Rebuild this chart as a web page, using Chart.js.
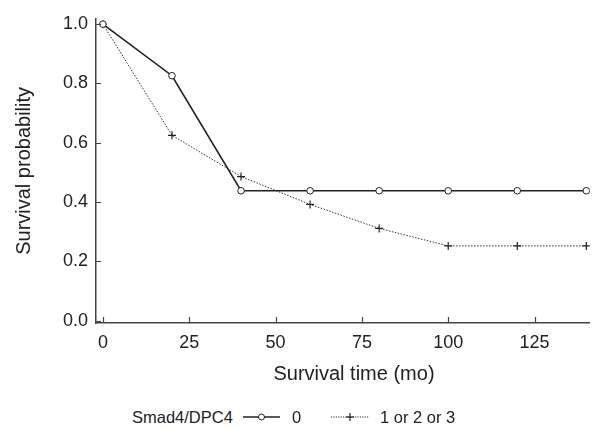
<!DOCTYPE html>
<html>
<head>
<meta charset="utf-8">
<script src="https://cdn.jsdelivr.net/npm/chart.js@4.4.1/dist/chart.umd.min.js"></script>
<style>
  body { margin: 0; background: #fff; font-family: "Liberation Sans", Arial, sans-serif; }
  #wrap { position: relative; width: 595px; height: 429px; }
  #chart { position: absolute; left: 0; top: 0; }
  .leg { position: absolute; top: 406px; font-size: 16.5px; color: #222; white-space: nowrap; line-height: 22px; }
  #xtitle { position: absolute; left: 254px; width: 200px; text-align: center; top: 361px; font-size: 20px; line-height: 24px; color: #222; }
</style>
</head>
<body>
<div id="wrap">
  <canvas id="chart" width="595" height="395"></canvas>
  <div id="xtitle">Survival time (mo)</div>
  <span class="leg" style="left:132px">Smad4/DPC4</span>
  <svg class="leg" style="left:243px; top:411px" width="38" height="12"><line x1="0" y1="6" x2="37" y2="6" stroke="#222" stroke-width="1.3"/><circle cx="18.5" cy="6" r="3" fill="#fff" stroke="#222" stroke-width="1"/></svg>
  <span class="leg" style="left:292px">0</span>
  <svg class="leg" style="left:331px; top:411px" width="39" height="12"><line x1="0" y1="6" x2="38" y2="6" stroke="#333" stroke-width="1" stroke-dasharray="1.2,1.2"/><line x1="15" y1="6" x2="23" y2="6" stroke="#222" stroke-width="1.2"/><line x1="19" y1="2" x2="19" y2="10" stroke="#222" stroke-width="1.2"/></svg>
  <span class="leg" style="left:380px">1 or 2 or 3</span>
</div>
<script>
const months = [0, 20, 40, 60, 80, 100, 120, 140];
const smad0 = [1.0, 0.826, 0.438, 0.438, 0.438, 0.438, 0.438, 0.438];
const smad123 = [1.0, 0.625, 0.486, 0.392, 0.311, 0.252, 0.252, 0.252];
const xTicks = [0, 25, 50, 75, 100, 125];
const yTicks = [0.0, 0.2, 0.4, 0.6, 0.8, 1.0];

const ink = '#222';

// inward tick marks, drawn from the scales
const innerTicks = {
  id: 'innerTicks',
  afterDraw(chart) {
    const ctx = chart.ctx;
    const xs = chart.scales.x, ys = chart.scales.y;
    const a = chart.chartArea;
    ctx.save();
    ctx.strokeStyle = '#444';
    ctx.lineWidth = 1.2;
    ctx.beginPath();
    xTicks.forEach(v => {
      const px = Math.round(xs.getPixelForValue(v)) + 0.5;
      ctx.moveTo(px, a.bottom);
      ctx.lineTo(px, a.bottom - 6);
    });
    yTicks.forEach(v => {
      const py = Math.round(ys.getPixelForValue(v)) + 0.5;
      ctx.moveTo(a.left, py);
      ctx.lineTo(a.left + 5, py);
    });
    ctx.stroke();
    ctx.restore();
  }
};

new Chart(document.getElementById('chart'), {
  type: 'line',
  data: {
    datasets: [
      {
        label: '0',
        data: months.map((m, i) => ({ x: m, y: smad0[i] })),
        borderColor: ink,
        borderWidth: 1.6,
        pointStyle: 'circle',
        pointRadius: 3.3,
        pointBackgroundColor: '#fff',
        pointBorderColor: ink,
        pointBorderWidth: 1,
        tension: 0
      },
      {
        label: '1 or 2 or 3',
        data: months.map((m, i) => ({ x: m, y: smad123[i] })),
        borderColor: '#333',
        borderWidth: 1,
        borderDash: [1.5, 1.5],
        pointStyle: 'cross',
        pointRadius: 4,
        pointBorderColor: ink,
        pointBorderWidth: 1.2,
        tension: 0
      }
    ]
  },
  options: {
    responsive: false,
    animation: false,
    layout: { padding: { top: 15, right: 3, left: 0, bottom: 0 } },
    plugins: { legend: { display: false }, tooltip: { enabled: false } },
    scales: {
      x: {
        type: 'linear',
        min: -2,
        max: 141,
        afterBuildTicks: s => { s.ticks = xTicks.map(v => ({ value: v })); },
        afterFit: s => { s.height = 72; },
        grid: { drawOnChartArea: false, drawTicks: false },
        border: { color: '#444', width: 1.5 },
        ticks: { color: ink, font: { size: 18, family: 'Liberation Sans' }, padding: 9, maxRotation: 0 }
      },
      y: {
        min: -0.008,
        max: 1.018,
        afterBuildTicks: s => { s.ticks = yTicks.map(v => ({ value: v })); },
        afterFit: s => { s.width = 96; },
        grid: { drawOnChartArea: false, drawTicks: false },
        border: { color: '#444', width: 1.5 },
        ticks: { color: ink, font: { size: 18, family: 'Liberation Sans' }, padding: 8, callback: v => v.toFixed(1) },
        title: { display: true, text: 'Survival probability', color: ink, font: { size: 20, family: 'Liberation Sans' }, padding: { top: 12, bottom: 0 } }
      }
    }
  },
  plugins: [innerTicks]
});
</script>
</body>
</html>
